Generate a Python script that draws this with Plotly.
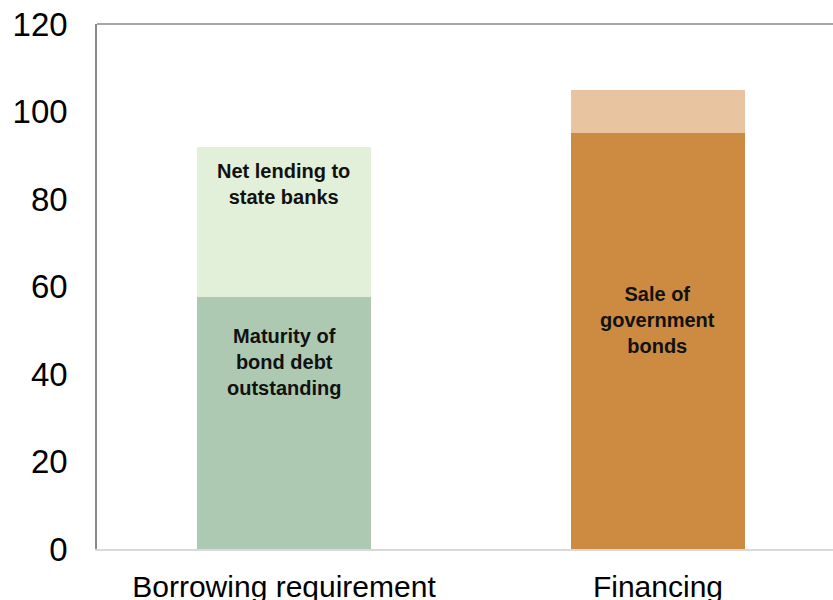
import plotly.graph_objects as go

categories = ["Borrowing requirement", "Financing"]
lower_values = [57.5, 95]
upper_values = [34.5, 10]
lower_labels = ["Maturity of<br>bond debt<br>outstanding", "Sale of<br>government<br>bonds"]
upper_labels = ["Net lending to<br>state banks", ""]
y_ticks = [0, 20, 40, 60, 80, 100, 120]

lower_colors = ["#adc9b1", "#cc8b41"]
upper_colors = ["#e2efd9", "#e8c5a0"]
FONT = "Arial, Liberation Sans, sans-serif"

fig = go.Figure()
fig.add_trace(go.Bar(x=categories, y=lower_values, marker=dict(color=lower_colors, line=dict(width=0)),
                     width=0.465, hoverinfo="skip", showlegend=False))
fig.add_trace(go.Bar(x=categories, y=upper_values, marker=dict(color=upper_colors, line=dict(width=0)),
                     width=0.465, hoverinfo="skip", showlegend=False))

# label positions as fractions of segments
lower_frac = [0.742, 0.55]
for i, c in enumerate(categories):
    fig.add_annotation(x=c, y=lower_values[i] * lower_frac[i], text="<b>" + lower_labels[i] + "</b>",
                       showarrow=False, font=dict(family=FONT, size=20, color="#111111"), align="center")
    if upper_labels[i]:
        top = lower_values[i] + upper_values[i]
        fig.add_annotation(x=c, y=top, yanchor="top", yshift=-11, text="<b>" + upper_labels[i] + "</b>",
                           showarrow=False, font=dict(family=FONT, size=20, color="#111111"), align="center")

fig.add_shape(type="line", xref="paper", yref="paper", x0=0, x1=1, y0=1, y1=1,
              line=dict(color="#898989", width=1.5))

fig.update_layout(
    barmode="stack",
    width=833, height=600,
    margin=dict(l=97, r=0, t=24, b=51),
    plot_bgcolor="white", paper_bgcolor="white",
    font=dict(family=FONT, color="#000000"),
    xaxis=dict(type="category", range=[-0.5, 1.468], showgrid=False, showline=True,
               linecolor="#d9d9d9", linewidth=2, tickfont=dict(size=30), ticks="",
               ticklabelstandoff=10, automargin=False),
    yaxis=dict(range=[0, 120], tickvals=y_ticks, showgrid=False, showline=True,
               linecolor="#898989", linewidth=1.5, tickfont=dict(size=33), ticks="",
               ticklabelstandoff=21, zeroline=False, automargin=False),
)

fig.write_html("out.html", config={"displayModeBar": False},
               post_script="document.body.style.margin='0px';document.body.style.overflow='hidden';")
